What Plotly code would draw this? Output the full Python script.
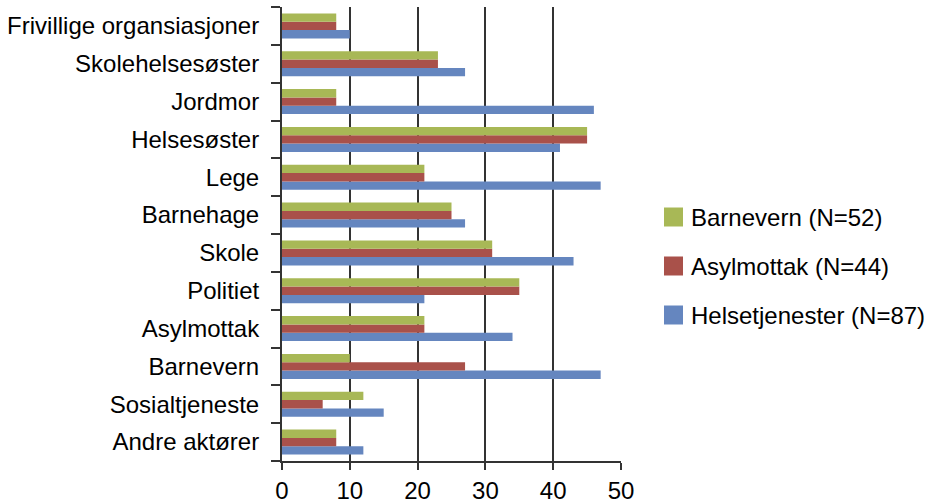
import plotly.graph_objects as go

# Categories listed bottom to top
categories = [
    "Andre aktører", "Sosialtjeneste", "Barnevern", "Asylmottak", "Politiet",
    "Skole", "Barnehage", "Lege", "Helsesøster", "Jordmor",
    "Skolehelsesøster", "Frivillige organsiasjoner",
]

helsetjenester = [12, 15, 47, 34, 21, 43, 27, 47, 41, 46, 27, 10]
asylmottak = [8, 6, 27, 21, 35, 31, 25, 21, 45, 8, 23, 8]
barnevern = [8, 12, 10, 21, 35, 31, 25, 21, 45, 8, 23, 8]

series_names = ["Helsetjenester (N=87)", "Asylmottak (N=44)", "Barnevern (N=52)"]
series_values = [helsetjenester, asylmottak, barnevern]
series_colors = ["#6586BF", "#A9514A", "#A8B856"]

x_ticks = [0, 10, 20, 30, 40, 50]

font_family = "Liberation Sans, Arial, sans-serif"
FS = 24
AXIS_COLOR = "#333333"

fig = go.Figure()
for name, vals, color in zip(series_names, series_values, series_colors):
    fig.add_trace(go.Bar(
        y=categories, x=vals, name=name, orientation="h",
        marker=dict(color=color, line=dict(width=0)),
        showlegend=False,
    ))

# Legend on the right: swatch + label, Barnevern at the top
plot_left, plot_right, plot_top, plot_bottom = 282, 621, 7, 461
pw, ph = plot_right - plot_left, plot_bottom - plot_top


def px_x(px):
    return (px - plot_left) / pw


def px_y(py):
    return (plot_bottom - py) / ph


legend_rows = [217, 266, 315]
for row_y, name, color in zip(legend_rows, series_names[::-1], series_colors[::-1]):
    fig.add_shape(
        type="rect", xref="paper", yref="paper",
        x0=px_x(664), x1=px_x(683), y0=px_y(row_y + 9.5), y1=px_y(row_y - 9.5),
        fillcolor=color, line=dict(width=0),
    )
    fig.add_annotation(
        xref="paper", yref="paper", x=px_x(689), y=px_y(row_y),
        xanchor="left", yanchor="middle", text=name, showarrow=False,
        font=dict(size=FS, color="#000", family=font_family),
    )

fig.update_layout(
    width=927, height=499,
    margin=dict(l=plot_left, r=927 - plot_right, t=plot_top, b=499 - plot_bottom),
    paper_bgcolor="white", plot_bgcolor="white",
    barmode="group", bargap=0.34, bargroupgap=0,
    font=dict(family=font_family, size=FS, color="#000"),
    showlegend=False,
    xaxis=dict(
        range=[0, 50], tickvals=x_ticks, ticktext=[str(v) for v in x_ticks],
        showgrid=True, gridcolor=AXIS_COLOR, gridwidth=1.6,
        showline=True, linecolor=AXIS_COLOR, linewidth=2,
        ticks="outside", ticklen=7, tickcolor=AXIS_COLOR, tickwidth=1.6,
        zeroline=False, tickfont=dict(size=FS), ticklabelstandoff=0,
        automargin=False,
    ),
    yaxis=dict(
        type="category", categoryorder="array", categoryarray=categories,
        showline=True, linecolor=AXIS_COLOR, linewidth=2,
        ticks="outside", ticklen=9, tickcolor=AXIS_COLOR, tickwidth=1.6,
        tickson="boundaries", showgrid=False, zeroline=False,
        tickfont=dict(size=FS), ticklabelstandoff=16, automargin=False,
    ),
)

fig.write_html("out.html")
